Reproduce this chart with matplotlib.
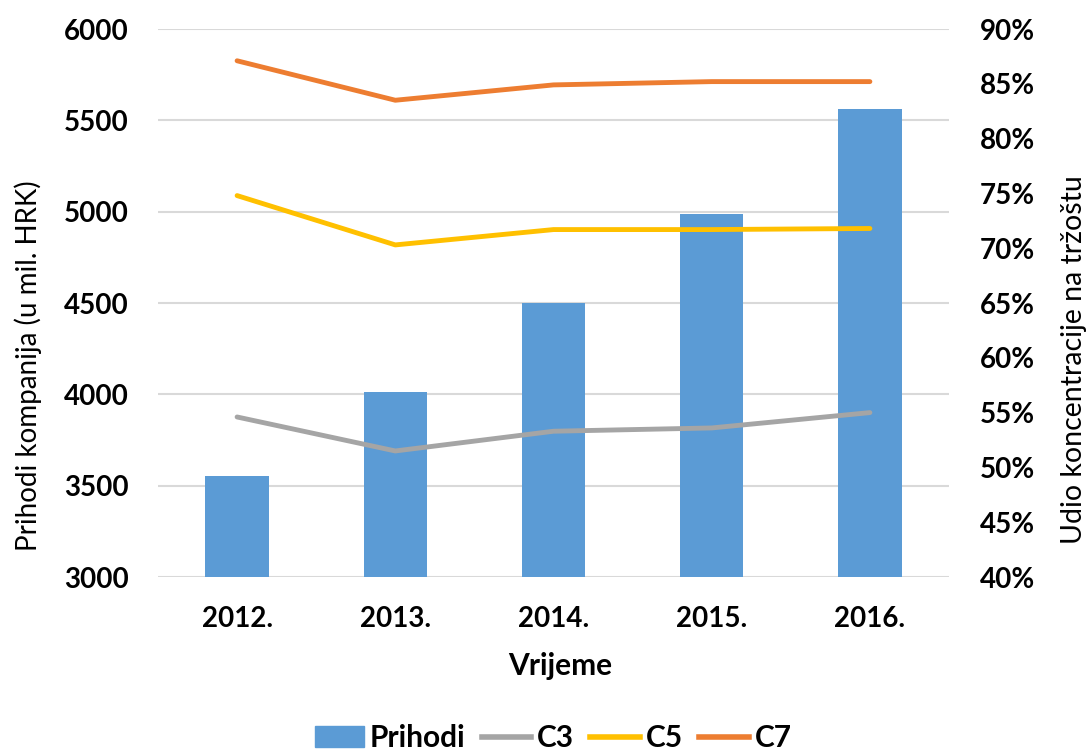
import matplotlib.pyplot as plt
import matplotlib.patches as mpatches
from matplotlib.lines import Line2D
import numpy as np

plt.rcParams['font.family'] = ['Lato', 'DejaVu Sans']

# podaci
godine = ['2012.', '2013.', '2014.', '2015.', '2016.']
prihodi = [3552, 4011, 4500, 4987, 5562]
c3 = [54.6, 51.5, 53.3, 53.6, 55.0]
c5 = [74.8, 70.3, 71.7, 71.7, 71.8]
c7 = [87.1, 83.5, 84.9, 85.2, 85.2]

boja_bar = '#5B9BD5'
boja_c3 = '#A5A5A5'
boja_c5 = '#FFC000'
boja_c7 = '#ED7D31'

fig = plt.figure(figsize=(10.88, 7.51), dpi=100)
ax = fig.add_axes([158 / 1088, 1 - 577 / 751, 791 / 1088, 548 / 751])
ax2 = ax.twinx()

x = np.arange(len(godine))
ax.bar(x, prihodi, width=0.40, color=boja_bar, zorder=2)
ax.set_ylim(3000, 6000)
ax.set_xlim(-0.5, len(godine) - 0.5)
ax.set_yticks(np.arange(3000, 6001, 500))
ax.yaxis.grid(True, color='#d9d9d9', linewidth=1.5, zorder=0)
ax.set_axisbelow(True)
ax.set_xticks(x)
ax.set_xticklabels(godine)

ax2.plot(x, c3, color=boja_c3, linewidth=3.5, solid_capstyle='round')
ax2.plot(x, c5, color=boja_c5, linewidth=3.5, solid_capstyle='round')
ax2.plot(x, c7, color=boja_c7, linewidth=3.5, solid_capstyle='round')
ax2.set_ylim(40, 90)
ax2.set_yticks(np.arange(40, 91, 5))
ax2.set_yticklabels([f'{v}%' for v in range(40, 91, 5)])

for a in (ax, ax2):
    for s in a.spines.values():
        s.set_visible(False)
    a.tick_params(length=0, labelsize=20)
    for lab in a.get_xticklabels() + a.get_yticklabels():
        lab.set_fontweight('bold')
ax.tick_params(axis='y', pad=21)
ax.tick_params(axis='x', pad=21)
ax2.tick_params(axis='y', pad=22)

fig.text(28 / 1088, 1 - 366 / 751, 'Prihodi kompanija (u mil. HRK)', rotation=90,
         ha='center', va='center', fontsize=20)
fig.text(1074 / 1088, 1 - 360 / 751, 'Udio koncentracije na tržoštu', rotation=90,
         ha='center', va='center', fontsize=20.5)
fig.text(560 / 1088, 1 - 666 / 751, 'Vrijeme', ha='center', va='center',
         fontsize=21.5, fontweight='bold')

handles = [mpatches.Patch(color=boja_bar, label='Prihodi'),
           Line2D([], [], color=boja_c3, lw=4, label='C3'),
           Line2D([], [], color=boja_c5, lw=4, label='C5'),
           Line2D([], [], color=boja_c7, lw=4, label='C7')]
fig.legend(handles=handles, loc='center', bbox_to_anchor=(553 / 1088, 1 - 738 / 751),
           ncol=4, frameon=False, prop={'size': 21.5, 'weight': 'bold'},
           handlelength=1.65, handletextpad=0.2, columnspacing=0.55)

fig.savefig('out.png', dpi=100)
